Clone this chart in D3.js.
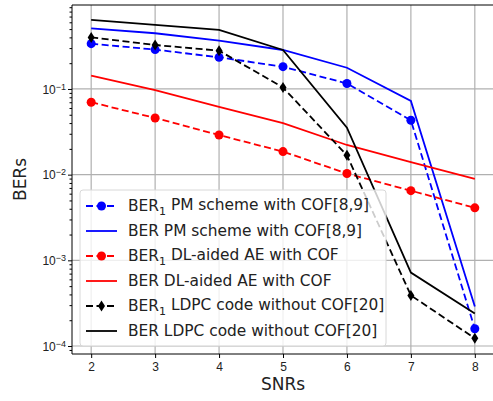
<!DOCTYPE html>
<html>
<head>
<meta charset="utf-8">
<script src="https://cdn.jsdelivr.net/npm/d3@7"></script>
<style>
  body { margin: 0; background: #fff; }
  svg { font-family: "DejaVu Sans", sans-serif; }
</style>
</head>
<body>
<svg id="chart" width="493" height="401"></svg>
<script>
const snrs = [2, 3, 4, 5, 6, 7, 8];

const ber1PM = [0.338, 0.288, 0.234, 0.182, 0.116, 0.0431, 0.000159];
const berPM = [0.51, 0.447, 0.366, 0.285, 0.177, 0.0724, 0.00029];
const ber1DL = [0.070, 0.0459, 0.029, 0.0186, 0.0103, 0.0065, 0.0041];
const berDL = [0.143, 0.097, 0.062, 0.040, 0.0222, 0.014, 0.0089];
const ber1LDPC = [0.40, 0.326, 0.28, 0.104, 0.0168, 0.00039, 0.000123];
const berLDPC = [0.64, 0.56, 0.49, 0.285, 0.0354, 0.00072, 0.00024];

const series = [
  { name: ["BER", "1", " PM scheme with COF[8,9]"], vals: ber1PM, color: "#0000ff", dash: true, marker: "circle" },
  { name: ["BER PM scheme with COF[8,9]"], vals: berPM, color: "#0000ff", dash: false },
  { name: ["BER", "1", " DL-aided AE with COF"], vals: ber1DL, color: "#ff0000", dash: true, marker: "circle" },
  { name: ["BER DL-aided AE with COF"], vals: berDL, color: "#ff0000", dash: false },
  { name: ["BER", "1", " LDPC code without COF[20]"], vals: ber1LDPC, color: "#000000", dash: true, marker: "diamond" },
  { name: ["BER LDPC code without COF[20]"], vals: berLDPC, color: "#000000", dash: false }
];

const margin = { top: 5, left: 72, bottom: 47 };
const W = 493, H = 401;
const plotRight = 494;

const svg = d3.select("#chart");

const x = d3.scaleLinear().domain([1.7, 8.3]).range([margin.left, plotRight]);
const y = d3.scaleLog().domain([8.07e-5, 0.955]).range([H - margin.bottom, margin.top]);

const gridColor = "#b0b0b0";

svg.append("defs").append("clipPath").attr("id", "clip")
  .append("rect")
  .attr("x", margin.left).attr("y", margin.top)
  .attr("width", plotRight - margin.left).attr("height", H - margin.bottom - margin.top);

// grid
const grid = svg.append("g");
grid.selectAll("line.gx").data(snrs).enter().append("line")
  .attr("x1", d => x(d)).attr("x2", d => x(d))
  .attr("y1", margin.top).attr("y2", H - margin.bottom)
  .attr("stroke", gridColor).attr("stroke-width", 1.2);
const decades = [1e-4, 1e-3, 1e-2, 1e-1];
grid.selectAll("line.gy").data(decades).enter().append("line")
  .attr("x1", margin.left).attr("x2", plotRight)
  .attr("y1", d => y(d)).attr("y2", d => y(d))
  .attr("stroke", gridColor).attr("stroke-width", 1.2);

// lines
const plot = svg.append("g").attr("clip-path", "url(#clip)");
const line = d3.line().x((d, i) => x(snrs[i])).y(d => y(d));

const diamond = "M0,-5.5L3.5,0L0,5.5L-3.5,0Z";

series.forEach(s => {
  plot.append("path")
    .attr("d", line(s.vals))
    .attr("fill", "none")
    .attr("stroke", s.color)
    .attr("stroke-width", 1.8)
    .attr("stroke-dasharray", s.dash ? "7,3.5" : null);
  if (s.marker === "circle") {
    plot.selectAll(null).data(s.vals).enter().append("circle")
      .attr("cx", (d, i) => x(snrs[i])).attr("cy", d => y(d))
      .attr("r", 4.5).attr("fill", s.color);
  } else if (s.marker === "diamond") {
    plot.selectAll(null).data(s.vals).enter().append("path")
      .attr("d", diamond)
      .attr("transform", (d, i) => `translate(${x(snrs[i])},${y(d)})`)
      .attr("fill", s.color);
  }
});

// axes
const xAxis = d3.axisBottom(x).tickValues(snrs).tickSize(4).tickPadding(4).tickFormat(d3.format("d"));
const gx = svg.append("g")
  .attr("transform", `translate(0,${H - margin.bottom})`)
  .call(xAxis);
gx.select(".domain").attr("d", `M${margin.left},0H${plotRight}`).attr("stroke", "#000").attr("stroke-width", 1);
gx.selectAll("text").attr("font-size", 12).attr("fill", "#222");

const minors = [];
[1e-5, 1e-4, 1e-3, 1e-2, 1e-1].forEach(dec => {
  for (let k = 2; k <= 9; k++) {
    const v = dec * k;
    if (v >= y.domain()[0] && v <= y.domain()[1]) minors.push(v);
  }
});
const gyMinor = svg.append("g")
  .attr("transform", `translate(${margin.left},0)`)
  .call(d3.axisLeft(y).tickValues(minors).tickSize(2.5).tickFormat(""));
gyMinor.select(".domain").remove();

const gy = svg.append("g")
  .attr("transform", `translate(${margin.left},0)`)
  .call(d3.axisLeft(y).tickValues(decades).tickSize(4).tickPadding(4).tickFormat(""));
gy.select(".domain").attr("d", `M0,${margin.top}V${H - margin.bottom}`).attr("stroke", "#000");

gy.selectAll(".tick").each(function(d) {
  const t = d3.select(this).append("text")
    .attr("x", -6).attr("dy", "0.35em")
    .attr("text-anchor", "end").attr("fill", "#222").attr("font-size", 12);
  t.append("tspan").text("10");
  t.append("tspan").attr("dy", "-0.45em").attr("font-size", 9).text("\u2212" + Math.round(-Math.log10(d)));
});

// top spine
svg.append("line")
  .attr("x1", margin.left).attr("x2", plotRight)
  .attr("y1", margin.top).attr("y2", margin.top)
  .attr("stroke", "#000").attr("stroke-width", 1);

// axis labels
svg.append("text")
  .attr("x", x(5)).attr("y", 390)
  .attr("text-anchor", "middle").attr("font-size", 17).attr("fill", "#222")
  .text("SNRs");
svg.append("text")
  .attr("transform", `translate(26,${(margin.top + H - margin.bottom) / 2}) rotate(-90)`)
  .attr("text-anchor", "middle").attr("font-size", 17).attr("fill", "#222")
  .text("BERs");

// legend
const lg = svg.append("g").attr("transform", "translate(80,190)");
lg.append("rect")
  .attr("width", 306).attr("height", 156).attr("rx", 3)
  .attr("fill", "#fff").attr("fill-opacity", 0.8)
  .attr("stroke", "#d8d8d8").attr("stroke-width", 1);

series.forEach((s, i) => {
  const row = lg.append("g").attr("transform", `translate(0,${16 + i * 25})`);
  row.append("line")
    .attr("x1", 6).attr("x2", 37).attr("y1", 0).attr("y2", 0)
    .attr("stroke", s.color).attr("stroke-width", 1.8)
    .attr("stroke-dasharray", s.dash ? "7,3.5" : null);
  if (s.marker === "circle") {
    row.append("circle").attr("cx", 21.5).attr("cy", 0).attr("r", 4.5).attr("fill", s.color);
  } else if (s.marker === "diamond") {
    row.append("path").attr("d", diamond).attr("transform", "translate(21.5,0)").attr("fill", s.color);
  }
  const t = row.append("text")
    .attr("x", 48).attr("dy", "0.35em")
    .attr("font-size", 15.4).attr("fill", "#222");
  if (s.name.length === 1) {
    t.text(s.name[0]);
  } else {
    t.append("tspan").text(s.name[0]);
    t.append("tspan").attr("dy", "0.3em").attr("font-size", 11).text(s.name[1]);
    t.append("tspan").attr("dy", "-0.3em").text(s.name[2]);
  }
});
</script>
</body>
</html>
